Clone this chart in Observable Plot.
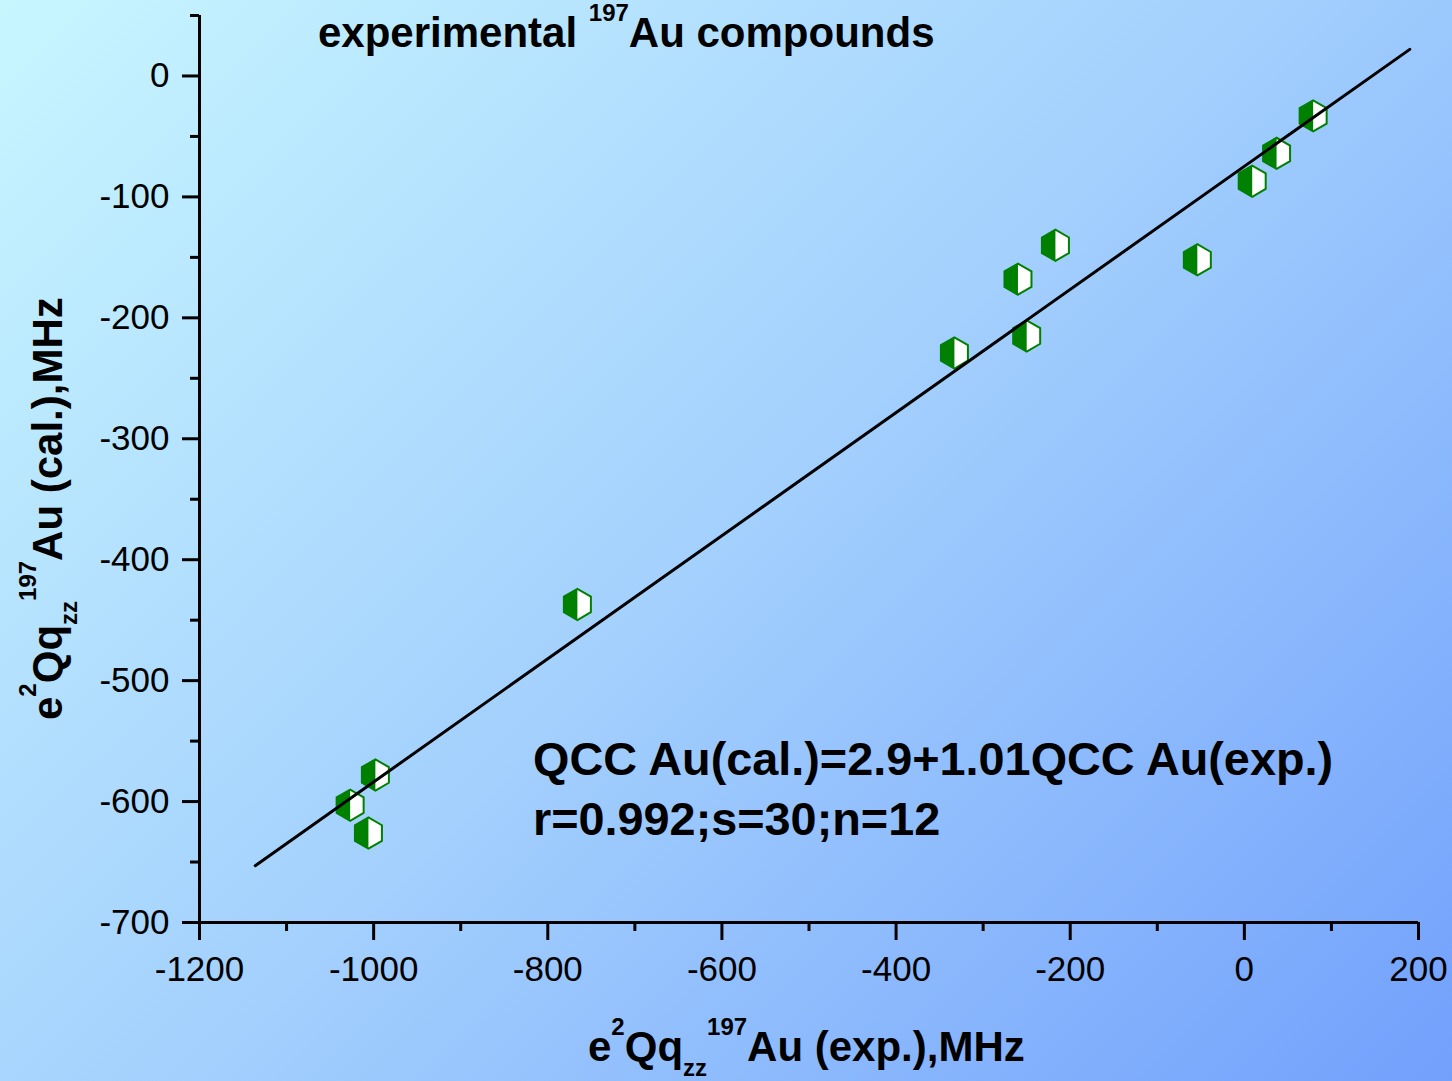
<!DOCTYPE html>
<html><head><meta charset="utf-8">
<script src="https://cdn.jsdelivr.net/npm/d3@7"></script>
<script src="https://cdn.jsdelivr.net/npm/@observablehq/plot@0.6"></script>
<style>
html,body{margin:0;padding:0;}
#chart{position:relative;width:1452px;height:1081px;background:linear-gradient(135deg,#c8f6ff 0%,#a3d0fd 50%,#72a0fc 100%);overflow:hidden;}
#chart svg{display:block;}
</style></head><body><div id="chart"></div>
<script>
// experimental vs calculated e2Qqzz 197Au (MHz)
const expQCC = [79, 37, 9, -54, -217, -260, -250, -333, -766, -998, -1027, -1006];
const calQCC = [-33, -64, -87, -152, -140, -168, -215, -229, -437, -578, -603, -626];
// regression line end points (as drawn)
const fitExp = [-1136, 190];
const fitCal = [-653, 22];
const xMajorTicks = [-1200, -1000, -800, -600, -400, -200, 0, 200];
const xMinorTicks = [-1100, -900, -700, -500, -300, -100, 100];
const yMajorTicks = [-700, -600, -500, -400, -300, -200, -100, 0];
const yMinorTicks = [-650, -550, -450, -350, -250, -150, -50, 50];

const points = expQCC.map((x, i) => ({x, y: calQCC[i]}));
const fit = fitExp.map((x, i) => ({x, y: fitCal[i]}));

const S3 = Math.sqrt(3);
const hexFull = {draw(c, size) {
  const rx = Math.sqrt(size / Math.PI), ry = rx * 2 / S3, hy = ry / 2;
  c.moveTo(0, ry); c.lineTo(rx, hy); c.lineTo(rx, -hy); c.lineTo(0, -ry);
  c.lineTo(-rx, -hy); c.lineTo(-rx, hy); c.closePath();
}};
const hexLeft = {draw(c, size) {
  const rx = Math.sqrt(size / Math.PI), ry = rx * 2 / S3, hy = ry / 2;
  c.moveTo(0, ry); c.lineTo(-rx, hy); c.lineTo(-rx, -hy); c.lineTo(0, -ry); c.closePath();
}};

const green = "#008000";
const ff = "'Liberation Sans', Arial, Helvetica, sans-serif";

const plot = Plot.plot({
  width: 1452, height: 1081,
  marginLeft: 199, marginRight: 34, marginTop: 15, marginBottom: 159,
  style: {background: "transparent", fontFamily: ff, overflow: "visible"},
  x: {domain: [-1200, 200]},
  y: {domain: [-700, 50]},
  marks: [
    Plot.ruleX([-1200], {strokeWidth: 3, stroke: "black"}),
    Plot.ruleY([-700], {strokeWidth: 3, stroke: "black"}),
    Plot.axisX({ticks: xMajorTicks, tickSize: 18, tickPadding: 16, strokeWidth: 3, fontSize: 35, tickFormat: d => String(d), label: null}),
    Plot.axisX({ticks: xMinorTicks, tickSize: 9, strokeWidth: 3, tickFormat: () => "", label: null}),
    Plot.axisY({ticks: yMajorTicks, tickSize: 17, tickPadding: 13, strokeWidth: 3, fontSize: 35, tickFormat: d => String(d), label: null}),
    Plot.axisY({ticks: yMinorTicks, tickSize: 9, strokeWidth: 3, tickFormat: () => "", label: null}),
    Plot.dot(points, {x: "x", y: "y", symbol: hexFull, r: 13.5, fill: "white", stroke: "none"}),
    Plot.dot(points, {x: "x", y: "y", symbol: hexLeft, r: 13.5, fill: green, stroke: "none"}),
    Plot.dot(points, {x: "x", y: "y", symbol: hexFull, r: 13.5, fill: "none", stroke: green, strokeWidth: 2}),
    Plot.line(fit, {x: "x", y: "y", stroke: "black", strokeWidth: 3})
  ]
});
document.getElementById("chart").appendChild(plot);

const svg = d3.select(plot);
function rich(parent, parts, attrs) {
  const t = parent.append("text").attr("font-family", ff).attr("font-weight", "bold")
    .attr("fill", "black").attr("text-anchor", "start");
  for (const k in attrs) t.attr(k, attrs[k]);
  for (const p of parts) {
    const s = t.append("tspan").text(p.t).attr("font-size", p.s);
    if (p.dy) s.attr("dy", p.dy);
  }
  return t;
}
// title
rich(svg, [
  {t: "experimental ", s: 42},
  {t: "197", s: 24, dy: -26},
  {t: "Au compounds", s: 42, dy: 26}
], {x: 318, y: 47});
// x label
rich(svg, [
  {t: "e", s: 42},
  {t: "2", s: 24, dy: -26},
  {t: "Qq", s: 42, dy: 26},
  {t: "zz", s: 24, dy: 15},
  {t: "197", s: 24, dy: -41},
  {t: "Au (exp.),MHz", s: 42, dy: 26}
], {x: 588, y: 1061});
// y label
rich(svg, [
  {t: "e", s: 42},
  {t: "2", s: 24, dy: -26},
  {t: "Qq", s: 42, dy: 26},
  {t: "zz", s: 24, dy: 15},
  {t: "197", s: 24, dy: -41},
  {t: "Au (cal.),MHz", s: 42, dy: 26}
], {transform: "translate(62,720) rotate(-90)"});
// regression annotation
rich(svg, [{t: "QCC Au(cal.)=2.9+1.01QCC Au(exp.)", s: 46.8}], {x: 533, y: 775});
rich(svg, [{t: "r=0.992;s=30;n=12", s: 46.8}], {x: 533, y: 835});
</script>
</body></html>
